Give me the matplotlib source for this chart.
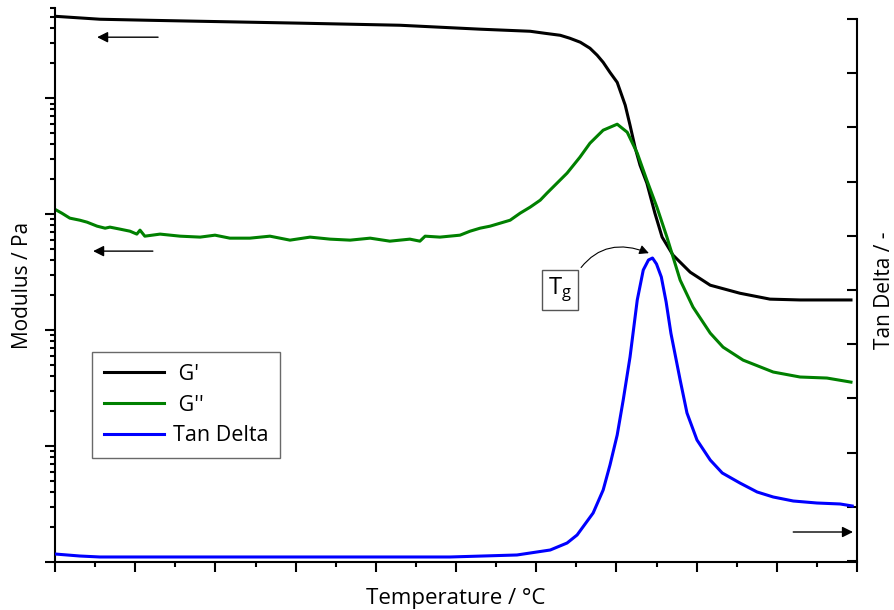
import numpy as np
import matplotlib
matplotlib.use('Agg')
import matplotlib.pyplot as plt
from matplotlib.ticker import LogLocator, NullFormatter, MultipleLocator

plt.rcParams['font.family'] = ['Open Sans', 'DejaVu Sans']
plt.rcParams['mathtext.default'] = 'regular'

# storage modulus G' (Pa)
t_g1 = [0, 11.2, 23.7, 36.2, 61.1, 86.0, 106.0, 118.5, 122.2, 126.0, 128.4, 131.0,
        133.4, 135.2, 136.7, 138.4, 140.2, 140.9, 142.2, 143.4, 144.7, 145.9, 147.6,
        149.6, 151.4, 154.1, 158.4, 163.4, 170.8, 178.3, 185.8, 198.5]
g1 = [5.09e9, 4.80e9, 4.70e9, 4.61e9, 4.44e9, 4.26e9, 3.94e9, 3.78e9, 3.63e9, 3.49e9,
      3.29e9, 3.04e9, 2.70e9, 2.35e9, 2.04e9, 1.67e9, 1.37e9, 1.17e9, 8.71e8, 5.85e8,
      3.71e8, 2.64e8, 1.85e8, 1.02e8, 6.34e7, 4.44e7, 3.16e7, 2.44e7, 2.08e7, 1.85e7,
      1.82e7, 1.82e7]

# loss modulus G'' (Pa)
t_g2 = [0, 1.7, 3.7, 6.2, 8.0, 10.5, 12.5, 13.7, 16.2, 18.7, 20.4, 21.2, 22.4, 26.2,
        31.2, 36.2, 39.9, 43.6, 48.6, 53.6, 58.6, 63.6, 68.6, 73.6, 78.6, 83.5, 88.5,
        91.0, 92.3, 96.0, 101.0, 103.5, 106.0, 108.5, 111.0, 113.5, 116.0, 118.5, 121.0,
        122.7, 127.7, 130.9, 133.4, 136.7, 140.2, 142.7, 145.2, 147.6, 150.1, 152.6,
        155.9, 159.1, 163.4, 166.6, 171.6, 179.1, 185.8, 192.5, 198.5]
g2 = [1.10e8, 1.02e8, 9.24e7, 8.87e7, 8.53e7, 7.88e7, 7.57e7, 7.73e7, 7.43e7, 7.13e7,
      6.73e7, 7.28e7, 6.46e7, 6.73e7, 6.46e7, 6.34e7, 6.59e7, 6.21e7, 6.21e7, 6.46e7,
      5.97e7, 6.34e7, 6.09e7, 5.97e7, 6.21e7, 5.85e7, 6.09e7, 5.85e7, 6.46e7, 6.34e7,
      6.59e7, 7.13e7, 7.57e7, 7.88e7, 8.36e7, 8.87e7, 1.02e8, 1.15e8, 1.32e8, 1.52e8,
      2.26e8, 3.10e8, 4.09e8, 5.30e8, 5.97e8, 5.09e8, 3.36e8, 1.96e8, 1.15e8, 6.34e7,
      2.70e7, 1.58e7, 9.42e6, 7.13e6, 5.51e6, 4.35e6, 3.94e6, 3.86e6, 3.56e6]

# tan delta (-)
t_tan = [0, 6.2, 11.2, 36.2, 61.1, 86.0, 98.5, 115.2, 123.5, 127.7, 130.2, 134.2, 136.7,
         138.4, 140.2, 141.7, 143.4, 145.2, 146.7, 148.0, 149.0, 150.0, 151.2, 152.4,
         153.6, 155.9, 157.6, 160.1, 163.4, 166.4, 170.8, 175.1, 179.1, 184.1, 190.0,
         195.8, 198.8]
tan_d = [0.0129, 0.0092, 0.0074, 0.0074, 0.0074, 0.0074, 0.0074, 0.0111, 0.0203, 0.0332,
         0.0480, 0.0886, 0.1310, 0.1771, 0.2325, 0.2970, 0.3764, 0.4815, 0.5369, 0.5554,
         0.5590, 0.5480, 0.5240, 0.4780, 0.4200, 0.3339, 0.2731, 0.2232, 0.1863, 0.1624,
         0.1439, 0.1273, 0.1181, 0.1107, 0.1070, 0.1052, 0.1015]

W, H = 895, 610
fig = plt.figure(figsize=(W / 100, H / 100), dpi=100)
ax = fig.add_axes([55 / W, 48 / H, 802 / W, 554 / H])
ax2 = fig.add_axes([55 / W, 49 / H, 802 / W, 542 / H], sharex=ax)

l1, = ax.plot(t_g1, g1, color='black', lw=2.2, label=" G'")
l2, = ax.plot(t_g2, g2, color='#008000', lw=2.2, label=" G''")
l3, = ax2.plot(t_tan, tan_d, color='#0000ff', lw=2.2, label='Tan Delta')

ax.set_yscale('log')
ax.set_ylim(1e5, 6e9)
ax.set_xlim(0, 200)
ax.yaxis.set_major_locator(LogLocator(base=10))
ax.yaxis.set_minor_locator(LogLocator(base=10, subs=np.arange(2, 10)))
ax.yaxis.set_major_formatter(NullFormatter())
ax.yaxis.set_minor_formatter(NullFormatter())
ax.xaxis.set_major_locator(MultipleLocator(20))
ax.xaxis.set_minor_locator(MultipleLocator(10))
ax.xaxis.set_major_formatter(NullFormatter())
for s in ['top', 'right']:
    ax.spines[s].set_visible(False)
for s in ['left', 'bottom']:
    ax.spines[s].set_linewidth(1.5)
ax.tick_params(which='major', direction='out', length=7, width=1.5)
ax.tick_params(which='minor', direction='out', length=3.5, width=1.5)

ax2.patch.set_visible(False)
for s in ['left', 'top', 'bottom']:
    ax2.spines[s].set_visible(False)
ax2.spines['right'].set_linewidth(1.5)
ax2.set_ylim(0, 1)
ax2.yaxis.tick_right()
ax2.yaxis.set_label_position('right')
ax2.yaxis.set_major_locator(MultipleLocator(0.1))
ax2.yaxis.set_major_formatter(NullFormatter())
ax2.tick_params(axis='y', which='major', direction='in', length=7, width=1.5)
ax2.tick_params(axis='x', which='both', bottom=False, labelbottom=False)

ax.set_xlabel('Temperature / °C', fontsize=16, labelpad=8)
ax.set_ylabel('Modulus / Pa', fontsize=15, labelpad=5)
ax2.set_ylabel('Tan Delta / -', fontsize=15, labelpad=9)

arrow = dict(arrowstyle='-|>', color='black', lw=1, mutation_scale=16,
             shrinkA=0, shrinkB=0)
ax.annotate('', xy=(10.5, 3.36e9), xytext=(25.7, 3.36e9), arrowprops=arrow)
ax.annotate('', xy=(9.5, 4.8e7), xytext=(24.4, 4.8e7), arrowprops=arrow)
ax2.annotate('', xy=(199.0, 0.0535), xytext=(184.1, 0.0535), arrowprops=arrow)

ax2.annotate('T$_g$', xy=(148.1, 0.568), xytext=(126.0, 0.50),
             ha='center', va='center', fontsize=17,
             bbox=dict(boxstyle='square,pad=0.25', fc='white', ec='#555555', lw=1),
             arrowprops=dict(arrowstyle='-|>', connectionstyle='arc3,rad=-0.45',
                             color='black', lw=0.8, mutation_scale=14,
                             shrinkA=3, shrinkB=0, relpos=(1.0, 0.8)))

leg = ax2.legend(handles=[l1, l2, l3], loc='upper left', bbox_to_anchor=(37 / 802, 209 / 542),
                 fontsize=15.5, frameon=True, fancybox=False, edgecolor='#444444',
                 handlelength=2.8, handletextpad=0.4, borderpad=0.55, labelspacing=0.45,
                 borderaxespad=0)
leg.get_frame().set_linewidth(1)

fig.savefig('out.png', dpi=100)
